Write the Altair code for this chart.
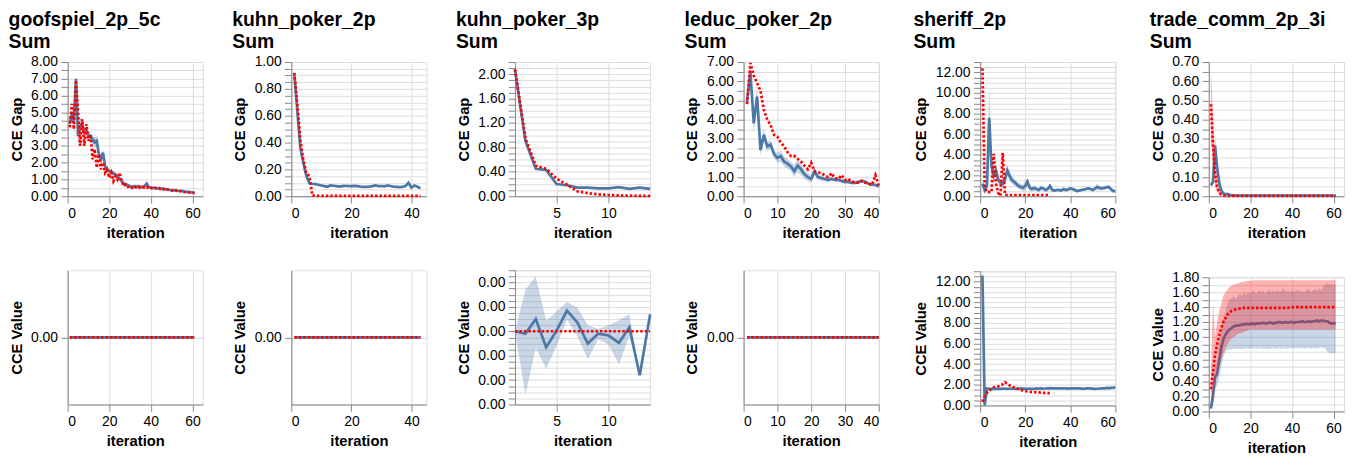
import altair as alt
import pandas as pd

FONT = "Liberation Sans"
BLUE = "#4c78a8"
RED = "#ff0000"

GAMES = ["goofspiel_2p_5c", "kuhn_poker_2p", "kuhn_poker_3p",
         "leduc_poker_2p", "sheriff_2p", "trade_comm_2p_3i"]
SUBTITLE = "Sum"
GAP_TITLE = "CCE Gap"
VAL_TITLE = "CCE Value"
X_TITLE = "iteration"

# ---------------- goofspiel_2p_5c ----------------
goof_iter = list(range(1, 62))
goof_gap_blue = [4.3, 4.9, 4.5, 7.0, 3.6, 4.2, 4.3, 3.8, 3.9, 3.6,
                 3.5, 3.4, 3.2, 3.3, 2.5, 2.2, 2.6, 1.8, 1.55, 1.5,
                 1.45, 1.35, 1.3, 1.15, 1.05, 0.9, 0.75, 0.7, 0.65, 0.6,
                 0.55, 0.6, 0.55, 0.6, 0.55, 0.55, 0.6, 0.75, 0.55, 0.5,
                 0.5, 0.5, 0.45, 0.5, 0.45, 0.42, 0.42, 0.4, 0.37, 0.36,
                 0.35, 0.34, 0.32, 0.31, 0.32, 0.28, 0.26, 0.26, 0.24, 0.22,
                 0.22]
goof_gap_blue_half = [0.3, 0.35, 0.3, 0.2, 0.6, 0.5, 0.3, 0.25, 0.25, 0.25,
                      0.25, 0.3, 0.3, 0.3, 0.25, 0.25, 0.2, 0.2, 0.18, 0.15,
                      0.15, 0.15, 0.15, 0.12, 0.12, 0.12, 0.12, 0.1, 0.1, 0.1,
                      0.1, 0.1, 0.1, 0.1, 0.1, 0.1, 0.12, 0.12, 0.1, 0.08,
                      0.08, 0.08, 0.08, 0.08, 0.07, 0.07, 0.07, 0.07, 0.06, 0.06,
                      0.06, 0.06, 0.06, 0.05, 0.05, 0.05, 0.05, 0.05, 0.05, 0.05,
                      0.05]
goof_gap_red = [4.1, 5.5, 4.0, 6.9, 5.0, 3.0, 4.6, 3.0, 4.3, 3.3,
                3.7, 2.2, 2.8, 1.7, 2.5, 1.6, 2.0, 1.4, 1.6, 1.1,
                1.4, 0.9, 1.2, 1.0, 1.4, 0.9, 0.6, 0.7, 0.55, 0.6,
                0.5, 0.6, 0.5, 0.55, 0.5, 0.55, 0.5, 0.55, 0.45, 0.5,
                0.45, 0.5, 0.45, 0.45, 0.4, 0.45, 0.35, 0.4, 0.35, 0.35,
                0.3, 0.35, 0.3, 0.3, 0.3, 0.25, 0.25, 0.22, 0.22, 0.2,
                0.2]
goof_val_blue = [0.0] * len(goof_iter)
goof_val_red = [0.0] * len(goof_iter)

# ---------------- kuhn_poker_2p ----------------
k2_iter = list(range(1, 44))
k2_gap_blue = [0.91, 0.64, 0.36, 0.25, 0.15, 0.1, 0.093, 0.09, 0.085, 0.08,
               0.075, 0.07, 0.08, 0.078, 0.075, 0.072, 0.075, 0.078, 0.075, 0.075,
               0.077, 0.075, 0.072, 0.07, 0.07, 0.072, 0.075, 0.08, 0.075, 0.076,
               0.074, 0.08, 0.076, 0.072, 0.07, 0.068, 0.07, 0.075, 0.1, 0.065,
               0.08, 0.07, 0.06]
k2_gap_red = [0.92, 0.68, 0.42, 0.27, 0.17, 0.15, 0.005, 0.004, 0.003, 0.003,
              0.003, 0.003, 0.003, 0.003, 0.003, 0.003, 0.003, 0.003, 0.003, 0.003,
              0.003, 0.003, 0.003, 0.003, 0.003, 0.003, 0.003, 0.003, 0.003, 0.003,
              0.003, 0.003, 0.003, 0.003, 0.003, 0.003, 0.003, 0.003, 0.003, 0.003,
              0.003, 0.003, 0.003]
k2_val_blue = [0.0] * len(k2_iter)
k2_val_red = [0.0] * len(k2_iter)

# ---------------- kuhn_poker_3p ----------------
k3_iter = list(range(1, 15))
k3_gap_blue = [2.08, 0.91, 0.45, 0.43, 0.2, 0.18, 0.14, 0.14, 0.13, 0.13,
               0.15, 0.12, 0.14, 0.12]
k3_gap_red = [2.08, 0.95, 0.5, 0.45, 0.29, 0.19, 0.08, 0.05, 0.03, 0.02,
              0.01, 0.01, 0.005, 0.005]
k3_val_blue = [0.0, -4e-18, 2.0e-17, -2.6e-17, 1e-18, 3.4e-17, 1.45e-17,
               -2.0e-17, -4e-18, -7e-18, -1.9e-17, 6.5e-18, -7.2e-17, 2.8e-17]
k3_val_blue_lo = [0.0, -1.04e-16, -2.8e-17, -6.1e-17, -2.4e-17, 1.9e-17, -8e-18,
                  -4.6e-17, -1.3e-17, -2.2e-17, -5.4e-17, -8e-18, -7.2e-17, 2.8e-17]
k3_val_blue_hi = [0.0, 6.8e-17, 9.0e-17, 1.7e-17, 3.3e-17, 4.8e-17, 3.9e-17,
                  1.0e-17, 4e-18, 1.0e-17, 1.8e-17, 2.8e-17, -7.2e-17, 2.8e-17]
k3_val_red = [0.0] * len(k3_iter)

# ---------------- leduc_poker_2p ----------------
le_iter = list(range(1, 41))
le_gap_blue = [4.9, 6.5, 3.8, 5.2, 2.4, 3.2, 2.6, 2.7, 2.2, 2.0,
               2.1, 1.8, 1.7, 1.55, 1.3, 1.6, 1.4, 1.15, 1.0, 0.9,
               1.3, 1.0, 0.95, 0.9, 0.85, 0.9, 0.85, 0.85, 0.8, 0.75,
               0.75, 0.7, 0.7, 0.75, 0.8, 0.75, 0.65, 0.6, 0.6, 0.5]
le_gap_blue_half = [0.3, 0.4, 0.5, 0.5, 0.3, 0.3, 0.25, 0.2, 0.2, 0.25,
                    0.3, 0.25, 0.25, 0.25, 0.3, 0.35, 0.3, 0.25, 0.2, 0.2,
                    0.2, 0.15, 0.15, 0.12, 0.12, 0.1, 0.1, 0.1, 0.1, 0.1,
                    0.1, 0.08, 0.08, 0.08, 0.08, 0.08, 0.07, 0.07, 0.07, 0.06]
le_gap_red = [4.8, 6.95, 6.3, 5.9, 5.5, 4.5, 4.0, 3.7, 3.2, 3.1,
              2.8, 2.6, 2.3, 2.1, 2.1, 1.95, 1.8, 1.6, 1.4, 1.75,
              1.3, 1.25, 1.2, 1.1, 1.0, 1.2, 0.95, 0.9, 1.1, 0.85,
              0.9, 0.75, 0.75, 0.7, 0.8, 0.7, 0.65, 0.6, 1.1, 0.55]
le_val_blue = [0.0] * len(le_iter)
le_val_red = [0.0] * len(le_iter)

# ---------------- sheriff_2p ----------------
sh_iter = list(range(1, 61))
sh_red_iter = list(range(1, 32))
sh_gap_blue = [1.2, 0.6, 1.0, 7.6, 3.0, 2.0, 2.5, 1.6, 1.3, 1.2,
               1.6, 2.5, 2.0, 1.6, 1.4, 1.2, 1.0, 0.9, 0.8, 1.0,
               1.4, 0.8, 0.7, 0.8, 0.7, 0.6, 0.8, 0.75, 0.6, 0.7,
               1.0, 0.6, 0.55, 0.6, 0.6, 0.55, 0.7, 0.6, 0.65, 0.75,
               0.7, 0.6, 0.5, 0.55, 0.6, 0.65, 0.7, 0.75, 0.7, 0.6,
               0.75, 0.9, 0.8, 0.75, 0.8, 0.85, 0.9, 0.7, 0.5, 0.5]
sh_gap_blue_half = [0.3, 0.5, 0.5, 2.8, 1.0, 0.6, 0.6, 0.5, 0.4, 0.4,
                    0.4, 0.5, 0.5, 0.4, 0.35, 0.3, 0.3, 0.3, 0.3, 0.5,
                    0.4, 0.3, 0.25, 0.25, 0.2, 0.2, 0.25, 0.2, 0.2, 0.25,
                    0.25, 0.2, 0.15, 0.15, 0.15, 0.15, 0.15, 0.15, 0.15, 0.15,
                    0.15, 0.15, 0.15, 0.15, 0.15, 0.15, 0.15, 0.15, 0.15, 0.15,
                    0.2, 0.35, 0.25, 0.2, 0.2, 0.2, 0.2, 0.15, 0.15, 0.15]
sh_gap_red = [12.4, 0.9, 0.4, 0.4, 0.4, 4.1, 1.2, 0.3, 0.05, 4.2,
              0.15, 0.12, 0.12, 0.12, 0.12, 0.12, 0.12, 0.12, 0.12, 0.12,
              0.12, 0.12, 0.12, 0.12, 0.12, 0.12, 0.12, 0.12, 0.12, 0.12,
              0.12]
sh_val_blue = [12.6, 0.0, 1.65, 1.62, 1.6, 1.63, 1.6, 1.62, 1.6, 1.63,
               1.62, 1.6, 1.62, 1.64, 1.62, 1.6, 1.62, 1.65, 1.63, 1.6,
               1.62, 1.64, 1.6, 1.62, 1.65, 1.63, 1.65, 1.62, 1.64, 1.66,
               1.68, 1.65, 1.66, 1.65, 1.67, 1.66, 1.65, 1.66, 1.64, 1.66,
               1.65, 1.67, 1.66, 1.65, 1.64, 1.62, 1.65, 1.66, 1.65, 1.63,
               1.6, 1.62, 1.64, 1.66, 1.65, 1.7, 1.68, 1.7, 1.72, 1.75]
sh_val_red = [0.35, 0.85, 1.22, 1.45, 1.6, 1.75, 1.8, 1.85, 1.95, 2.05,
              2.25, 2.1, 1.95, 1.85, 1.75, 1.65, 1.6, 1.5, 1.45, 1.4,
              1.35, 1.33, 1.3, 1.3, 1.28, 1.27, 1.25, 1.22, 1.22, 1.2,
              1.19]

# ---------------- trade_comm_2p_3i ----------------
tr_iter = list(range(1, 62))
tr_gap_blue = [0.057, 0.075, 0.264, 0.15, 0.07, 0.03, 0.015, 0.01, 0.012, 0.008,
               0.005, 0.004, 0.004, 0.003, 0.003, 0.003, 0.003, 0.003, 0.003, 0.003,
               0.003, 0.003, 0.003, 0.003, 0.003, 0.003, 0.003, 0.003, 0.003, 0.003,
               0.003, 0.003, 0.003, 0.003, 0.003, 0.003, 0.003, 0.003, 0.003, 0.003,
               0.003, 0.003, 0.003, 0.003, 0.003, 0.003, 0.003, 0.003, 0.003, 0.003,
               0.003, 0.003, 0.003, 0.003, 0.003, 0.003, 0.003, 0.003, 0.003, 0.003,
               0.003]
tr_gap_blue_half = [0.01, 0.02, 0.06, 0.05, 0.03, 0.015, 0.01, 0.006, 0.005, 0.004]
tr_gap_red = [0.48, 0.27, 0.12, 0.05, 0.02, 0.008, 0.004, 0.002, 0.002, 0.002,
              0.002, 0.002, 0.002, 0.002, 0.002, 0.002, 0.002, 0.002, 0.002, 0.002,
              0.002, 0.002, 0.002, 0.002, 0.002, 0.002, 0.002, 0.002, 0.002, 0.002,
              0.002, 0.002, 0.002, 0.002, 0.002, 0.002, 0.002, 0.002, 0.002, 0.002,
              0.002, 0.002, 0.002, 0.002, 0.002, 0.002, 0.002, 0.002, 0.002, 0.002,
              0.002, 0.002, 0.002, 0.002, 0.002, 0.002, 0.002, 0.002, 0.002, 0.002,
              0.002]
tr_gap_red_lo = [0.3, 0.15, 0.05, 0.02, 0.01, 0.004]
tr_gap_red_hi = [0.67, 0.42, 0.2, 0.08, 0.03, 0.012]
tr_val_blue = [0.04, 0.2, 0.46, 0.5, 0.68, 0.86, 0.97, 1.03, 1.07, 1.1,
               1.12, 1.14, 1.15, 1.15, 1.16, 1.16, 1.17, 1.17, 1.17, 1.17,
               1.18, 1.17, 1.18, 1.18, 1.18, 1.19, 1.18, 1.18, 1.19, 1.19,
               1.18, 1.19, 1.19, 1.2, 1.19, 1.19, 1.2, 1.19, 1.2, 1.2,
               1.19, 1.2, 1.2, 1.2, 1.21, 1.2, 1.2, 1.21, 1.2, 1.21,
               1.21, 1.22, 1.21, 1.22, 1.22, 1.21, 1.21, 1.19, 1.18, 1.18,
               1.18]
tr_val_blue_lo = [0.02, 0.1, 0.3, 0.35, 0.45, 0.6, 0.72, 0.8, 0.82, 0.83,
                  0.83, 0.84, 0.83, 0.84, 0.84, 0.83, 0.84, 0.85, 0.84, 0.84,
                  0.84, 0.85, 0.84, 0.84, 0.85, 0.84, 0.84, 0.83, 0.84, 0.84,
                  0.85, 0.84, 0.84, 0.85, 0.84, 0.85, 0.84, 0.84, 0.85, 0.85,
                  0.84, 0.85, 0.84, 0.85, 0.85, 0.84, 0.85, 0.85, 0.84, 0.85,
                  0.85, 0.84, 0.85, 0.86, 0.85, 0.84, 0.8, 0.78, 0.78, 0.78,
                  0.78]
tr_val_blue_hi = [0.06, 0.4, 0.62, 0.7, 0.9, 1.1, 1.25, 1.35, 1.45, 1.5,
                  1.52, 1.55, 1.5, 1.56, 1.58, 1.55, 1.6, 1.57, 1.6, 1.58,
                  1.62, 1.6, 1.58, 1.63, 1.6, 1.62, 1.58, 1.6, 1.64, 1.6,
                  1.62, 1.6, 1.63, 1.6, 1.62, 1.65, 1.6, 1.62, 1.6, 1.63,
                  1.6, 1.62, 1.64, 1.6, 1.62, 1.6, 1.63, 1.65, 1.6, 1.62,
                  1.64, 1.62, 1.66, 1.62, 1.68, 1.7, 1.72, 1.7, 1.71, 1.7,
                  1.7]
tr_val_red = [0.3, 0.53, 0.76, 0.9, 1.02, 1.12, 1.2, 1.25, 1.3, 1.33,
              1.35, 1.36, 1.37, 1.38, 1.38, 1.38, 1.39, 1.39, 1.39, 1.39,
              1.39, 1.39, 1.39, 1.39, 1.39, 1.39, 1.39, 1.39, 1.39, 1.39,
              1.39, 1.39, 1.39, 1.39, 1.39, 1.39, 1.39, 1.39, 1.4, 1.4,
              1.4, 1.4, 1.4, 1.4, 1.4, 1.4, 1.4, 1.4, 1.4, 1.4,
              1.4, 1.4, 1.4, 1.4, 1.4, 1.4, 1.4, 1.4, 1.4, 1.4,
              1.4]
tr_val_red_lo = [0.1, 0.2, 0.4, 0.5, 0.6, 0.7, 0.78, 0.84, 0.9, 0.94,
                 0.98, 1.0, 1.02, 1.04, 1.05, 1.06, 1.07, 1.08, 1.09, 1.1,
                 1.1, 1.1, 1.1, 1.1, 1.1, 1.1, 1.1, 1.1, 1.1, 1.1,
                 1.1, 1.1, 1.1, 1.1, 1.1, 1.1, 1.1, 1.1, 1.1, 1.1,
                 1.1, 1.1, 1.1, 1.1, 1.1, 1.1, 1.1, 1.1, 1.1, 1.1,
                 1.1, 1.1, 1.1, 1.1, 1.1, 1.1, 1.1, 1.1, 1.1, 1.1,
                 1.1]
tr_val_red_hi = [0.5, 1.45, 1.0, 1.2, 1.35, 1.45, 1.55, 1.6, 1.64, 1.67,
                 1.69, 1.7, 1.71, 1.72, 1.73, 1.74, 1.74, 1.75, 1.75, 1.75,
                 1.76, 1.76, 1.76, 1.76, 1.76, 1.76, 1.76, 1.76, 1.76, 1.76,
                 1.76, 1.76, 1.76, 1.76, 1.76, 1.76, 1.76, 1.76, 1.76, 1.76,
                 1.76, 1.76, 1.76, 1.76, 1.76, 1.76, 1.76, 1.76, 1.76, 1.76,
                 1.76, 1.76, 1.76, 1.76, 1.76, 1.76, 1.76, 1.76, 1.76, 1.76,
                 1.76]

W = 136
H = 135


def band_df(iters, mean=None, half=None, lo=None, hi=None):
    if half is not None:
        n = len(half)
        lo = [m - h for m, h in zip(mean[:n], half)]
        hi = [m + h for m, h in zip(mean[:n], half)]
    n = len(lo)
    return pd.DataFrame({"iteration": iters[:n], "lo": lo, "hi": hi})


def panel(iters, blue, red, ytitle, red_iters=None, blue_band=None,
          red_band=None, x_zero=True):
    red_iters = red_iters if red_iters is not None else iters
    x = alt.X("iteration:Q", title=X_TITLE,
              scale=alt.Scale(zero=x_zero),
              axis=alt.Axis(tickCount=3))
    yax = alt.Axis(format=".2f", tickCount=20)
    layers = []
    if blue_band is not None:
        layers.append(
            alt.Chart(blue_band).mark_area(color=BLUE, opacity=0.3).encode(
                x=x, y=alt.Y("lo:Q", title=ytitle, axis=yax), y2="hi:Q"))
    layers.append(
        alt.Chart(pd.DataFrame({"iteration": iters, "value": blue}))
        .mark_line(color=BLUE, strokeWidth=2.7)
        .encode(x=x, y=alt.Y("value:Q", title=ytitle, axis=yax)))
    if red_band is not None:
        layers.append(
            alt.Chart(red_band).mark_area(color=RED, opacity=0.3).encode(
                x=x, y=alt.Y("lo:Q", title=ytitle, axis=yax), y2="hi:Q"))
    layers.append(
        alt.Chart(pd.DataFrame({"iteration": red_iters, "value": red}))
        .mark_line(color=RED, strokeWidth=2.7, strokeDash=[2.5, 2])
        .encode(x=x, y=alt.Y("value:Q", title=ytitle, axis=yax)))
    return alt.layer(*layers).properties(width=W, height=H)


def column(name, top, bottom, label_at_top):
    return alt.vconcat(
        top, bottom, spacing=28.5,
        title=alt.Title([name, SUBTITLE], offset=2.5 if label_at_top else 9.0))


cols = [
    column(GAMES[0],
           panel(goof_iter, goof_gap_blue, goof_gap_red, GAP_TITLE,
                 blue_band=band_df(goof_iter, goof_gap_blue, goof_gap_blue_half)),
           panel(goof_iter, goof_val_blue, goof_val_red, VAL_TITLE), True),
    column(GAMES[1],
           panel(k2_iter, k2_gap_blue, k2_gap_red, GAP_TITLE),
           panel(k2_iter, k2_val_blue, k2_val_red, VAL_TITLE), True),
    column(GAMES[2],
           panel(k3_iter, k3_gap_blue, k3_gap_red, GAP_TITLE, x_zero=False),
           panel(k3_iter, k3_val_blue, k3_val_red, VAL_TITLE, x_zero=False,
                 blue_band=band_df(k3_iter, lo=k3_val_blue_lo, hi=k3_val_blue_hi)),
           False),
    column(GAMES[3],
           panel(le_iter, le_gap_blue, le_gap_red, GAP_TITLE,
                 blue_band=band_df(le_iter, le_gap_blue, le_gap_blue_half)),
           panel(le_iter, le_val_blue, le_val_red, VAL_TITLE), True),
    column(GAMES[4],
           panel(sh_iter, sh_gap_blue, sh_gap_red, GAP_TITLE, red_iters=sh_red_iter,
                 blue_band=band_df(sh_iter, sh_gap_blue, sh_gap_blue_half)),
           panel(sh_iter, sh_val_blue, sh_val_red, VAL_TITLE, red_iters=sh_red_iter),
           False),
    column(GAMES[5],
           panel(tr_iter, tr_gap_blue, tr_gap_red, GAP_TITLE,
                 blue_band=band_df(tr_iter, tr_gap_blue, tr_gap_blue_half),
                 red_band=band_df(tr_iter, lo=tr_gap_red_lo, hi=tr_gap_red_hi)),
           panel(tr_iter, tr_val_blue, tr_val_red, VAL_TITLE,
                 blue_band=band_df(tr_iter, lo=tr_val_blue_lo, hi=tr_val_blue_hi),
                 red_band=band_df(tr_iter, lo=tr_val_red_lo, hi=tr_val_red_hi)),
           True),
]

chart = (
    alt.hconcat(*cols, spacing=28)
    .properties(padding=0)
    .configure_axis(labelFont=FONT, titleFont=FONT, labelFontSize=14,
                    titleFontSize=14.85, tickSize=6.75, labelPadding=3.4,
                    titlePadding=5.4)
    .configure_axisY(titlePadding=6.5)
    .configure_title(font=FONT, fontSize=19.5, anchor="start", lineHeight=22)
    .configure_view(stroke="#ddd")
)

chart.save("out.html", embed_options={"renderer": "svg", "actions": False})
